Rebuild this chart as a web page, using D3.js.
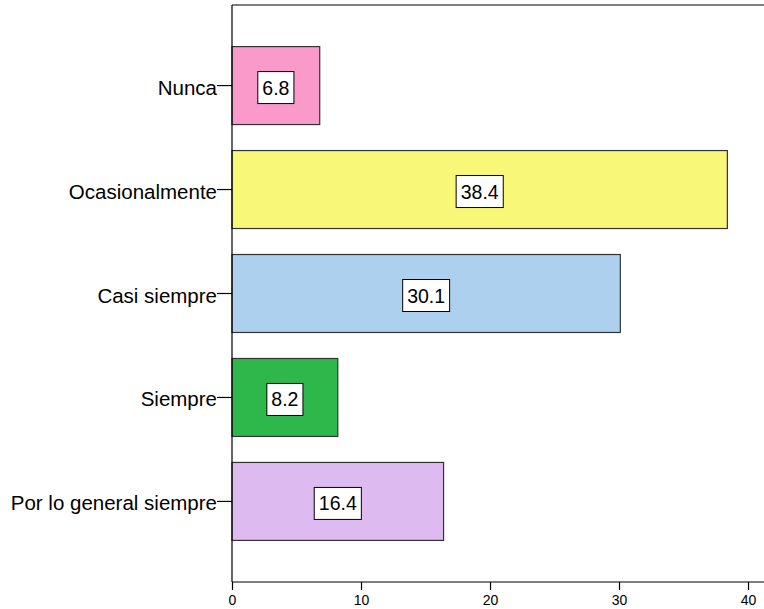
<!DOCTYPE html>
<html>
<head>
<meta charset="utf-8">
<script src="https://cdn.jsdelivr.net/npm/d3@7"></script>
<style>
  html, body { margin: 0; padding: 0; background: #fff; }
  svg { display: block; }
  text { font-family: Arial, "Liberation Sans", sans-serif; fill: #000; }
</style>
</head>
<body>
<svg id="chart" width="764" height="609"></svg>
<script>
const categories = ["Nunca", "Ocasionalmente", "Casi siempre", "Siempre", "Por lo general siempre"];
const values = [6.8, 38.4, 30.1, 8.2, 16.4];
const colors = ["#FA9ACA", "#F8F777", "#ADD0EE", "#2EB84B", "#DDBBF1"];
const xTicks = [0, 10, 20, 30, 40];

(function () {
const svg = d3.select("#chart");
const mLeft = 232, mTop = 5, mBottom = 582, mRight = 763.5;

const x = d3.scaleLinear().domain([0, 41.2]).range([mLeft, mRight]);
const y = d3.scaleBand().domain(categories).range([mTop, mBottom])
  .paddingInner(0.25).paddingOuter(0.4);

// frame top line
svg.append("line").attr("x1", mLeft).attr("x2", 764).attr("y1", mTop).attr("y2", mTop)
  .attr("stroke", "#000").attr("stroke-width", 1.2);

// bars
const data = categories.map((c, i) => ({ c, v: values[i], col: colors[i] }));
svg.append("g").selectAll("rect").data(data).join("rect")
  .attr("x", x(0))
  .attr("y", d => y(d.c))
  .attr("width", d => x(d.v) - x(0))
  .attr("height", y.bandwidth())
  .attr("fill", d => d.col)
  .attr("stroke", "#333")
  .attr("stroke-width", 1.2);

// x axis
const xAxis = svg.append("g").attr("transform", `translate(0,${mBottom})`)
  .call(d3.axisBottom(x).tickValues(xTicks).tickSize(8).tickPadding(5).tickFormat(d3.format("d")));
xAxis.select(".domain").remove();
xAxis.selectAll("line").attr("stroke", "#000").attr("stroke-width", 1.2);
xAxis.selectAll("text").style("font-size", "14px").style("font-family", "Arial, 'Liberation Sans', sans-serif");
svg.append("line").attr("x1", mLeft).attr("x2", 764).attr("y1", mBottom).attr("y2", mBottom)
  .attr("stroke", "#000").attr("stroke-width", 1.2);

// y axis
const yAxis = svg.append("g").attr("transform", `translate(${mLeft},0)`)
  .call(d3.axisLeft(y).tickSize(15).tickPadding(0));
yAxis.select(".domain").remove();
yAxis.selectAll("line").attr("stroke", "#000").attr("stroke-width", 1.2);
yAxis.selectAll("text").attr("dy", "0.44em")
  .style("font-size", "20.5px").style("font-family", "Arial, 'Liberation Sans', sans-serif");
svg.append("line").attr("x1", mLeft).attr("x2", mLeft).attr("y1", mTop).attr("y2", mBottom)
  .attr("stroke", "#000").attr("stroke-width", 1.2);

// value labels
const lab = svg.append("g").selectAll("g").data(data).join("g")
  .attr("transform", d => `translate(${(x(0) + x(d.v)) / 2},${y(d.c) + y.bandwidth() / 2 + 2})`);
lab.each(function(d) {
  const g = d3.select(this);
  const rect = g.append("rect").attr("fill", "#fff").attr("stroke", "#000").attr("stroke-width", 1);
  const t = g.append("text").attr("text-anchor", "middle").attr("dy", "0.36em")
    .style("font-size", "19.5px").text(d.v.toFixed(1));
  const bb = t.node().getBBox();
  const w = bb.width + 9, h = 32;
  rect.attr("x", -w / 2).attr("y", -h / 2).attr("width", w).attr("height", h);
});
})();
</script>
</body>
</html>
